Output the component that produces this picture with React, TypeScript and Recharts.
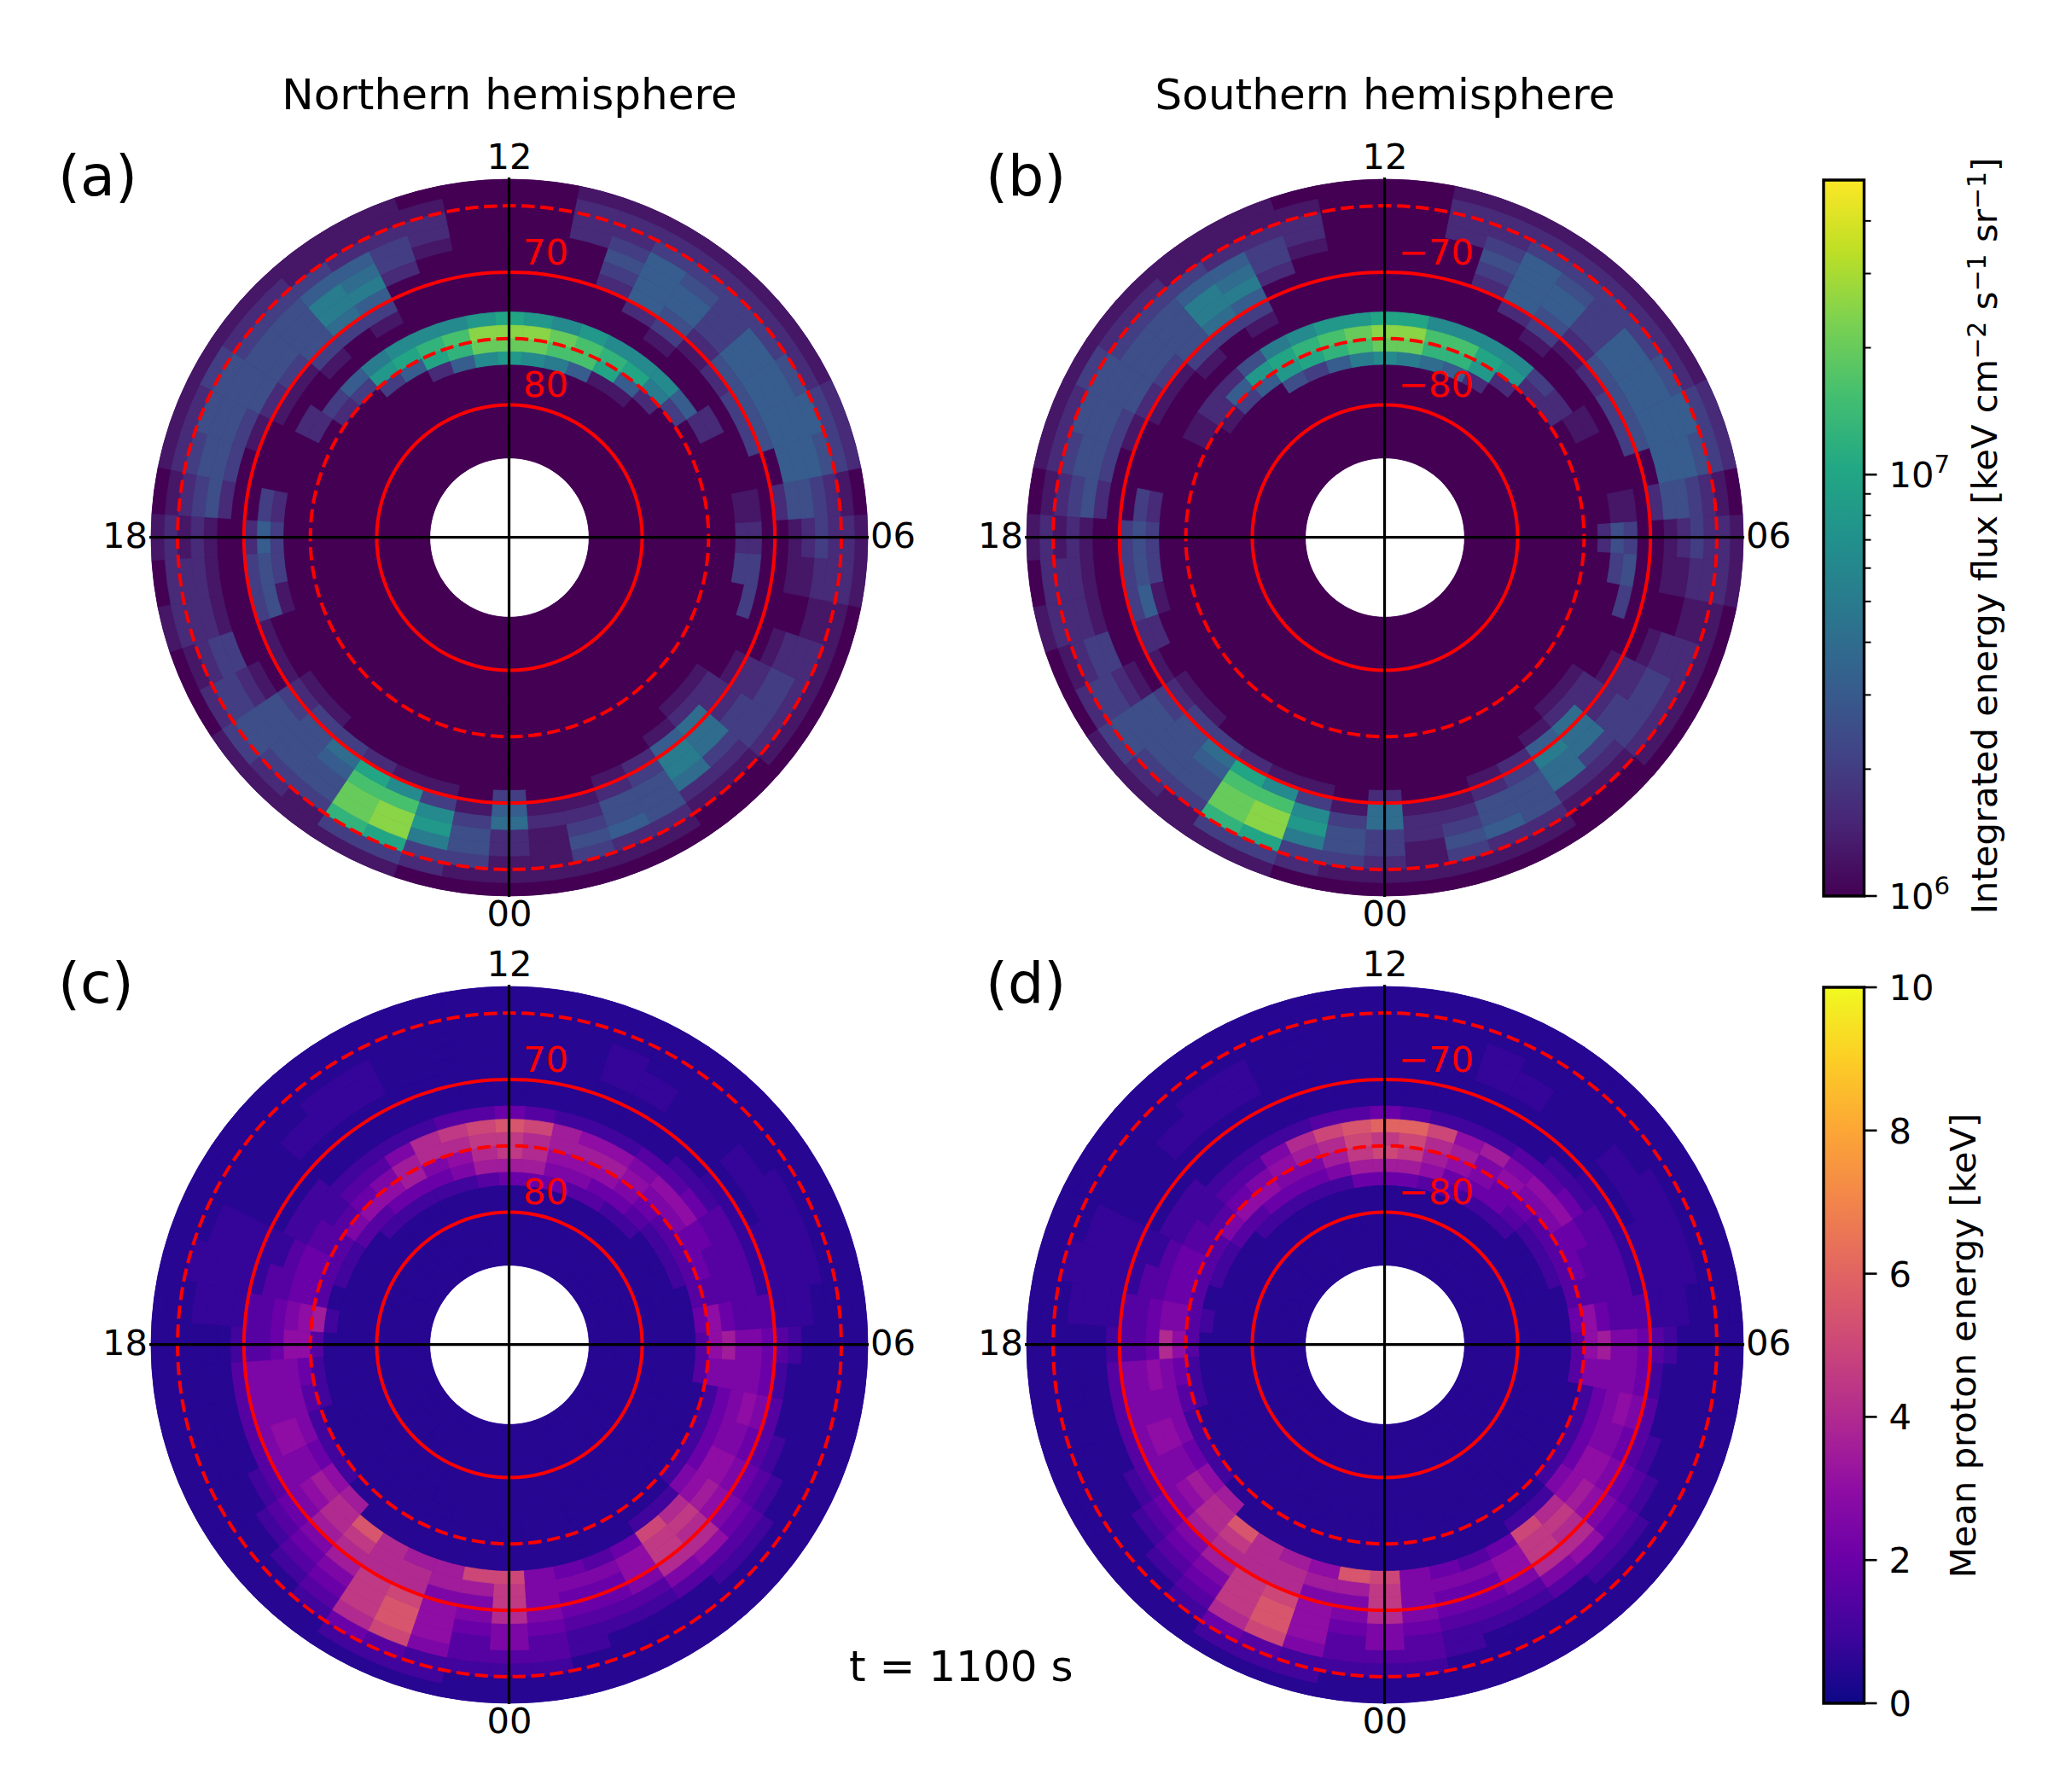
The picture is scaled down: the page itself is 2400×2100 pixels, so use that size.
import React from "react";
import { PieChart, Pie, ComposedChart, XAxis, YAxis, ReferenceLine, ReferenceArea } from "recharts";

// Each string is one half-hour MLT bin (index 0 = 00:00, running to 23:30). Each character is a base-36
// level for one 1-degree latitude ring, from 63-64 deg (first) poleward. Missing characters = background.
// Flux level L means 10^(6 + L/10) keV cm-2 s-1 sr-1; energy level L means L/2 keV, and "x" means 0.75 keV.
const fluxNorth = [
  "01122653","0111121","0134321","01254421","01244432","001267751","0012366621","0123332221","01233221","012221","011100003","1222110033",
  "1223210022","0123442011","234555","23555543","12455543022","123555420053","12333321008720","12345543108a51","12355552008ba1","12234320009cc5","12220000008dc7","00000000009ed8",
  "0000000000aed9","00000000009ed8","01221000008cb5","11233200008ba2","11256753108a5","1135776300793","123444431053","123444310032","13444421022","1244431","123443","0123420032",
  "1212100253","0222100343","1222100341","01233001","02332101","134444321","123444431","11344563","13bddca2","13aeec81","02379831","0134431",
];
const fluxSouth = [
  "01233662","0111221","0134321","01254421","01244432","001266751","0012366621","0123332221","01233221","012221","011100003","1222110043",
  "12232100342","0123442011","234555","23555543","12455543011","123555420022","123333210032","1234554310892","12355552008a92","12234320008cb5","12220000008cb6","0000000000aed7",
  "0000000000aed8","00000000009dc7","01221000009cb5","11233200008ba3","11256753107a94","1135776300495","1234444310253","1234443100221","134444210011","1244431","123443","0123420032",
  "1212100343","0222100343","1222100351","012330022","02332101","134444321","123444431","11344563","13bddca2","13aeec81","02379831","0134431",
];
const energyNorth = [
  "112355899a","1123345555","1112234454","1111234453","1111235664","111135899a2","11123688982","111234567652","111123456642","111112345542","1111113565421","1111112455553",
  "1111123455763","1111xxx3334641","111xxxxx333331","111xxxxx333432","111xxx1x334432","1111xx1x246532","111111112365432","111111111356542","1111xx111267643","111xxx111267653","111111111277654","1111111113a8874",
  "1111111114b9974","1111111113a9873","111111111398652","111111111288542","111xxx111257742","111xxx111235642","1111xx111234632","11111111222353","11111111223332","111xxxxxx34432","11xxxxxx334431","111xxxx3345672",
  "1111112334663","1111113555542","1111113555532","111111356652","111112355542","111123456762","111234578871","112345789b","1248999888","123abba887","1225666577","112334557a",
];
const energySouth = [
  "112355899a","1123345555","1112234454","1111234453","1111235664","111135899a2","11123688982","111234567652","111123456642","111112345542","1111113565421","1111112455553",
  "1111123455763","1111xxx3334641","111xxxxx333331","111xxxxx333432","111xxx1x334432","1111xx1x246532","111111112365432","111111111356442","1111xx111275542","111xxx111267643","1111111112a8763","1111111113ca974",
  "1111111114c9a74","1111111113ba974","1111111113a8752","111111111287542","111xxx111256542","111xxx111235642","1111xx111234632","11111111222353","11111111223332","111xxxxxx34432","11xxxxxx334431","111xxxx3345532",
  "1111112334863","1111113556542","1111113555532","111111356652","111112355542","111123456762","111234578871","112345789b","1248999888","123abba887","1225666576","112334557b",
];

const binHours = 0.5;
const firstLat = 63;
const ringCount = 21;
const solidLats = [70, 80];
const dashedLats = [65, 75];
const fluxTicks = [1e6, 2e6, 3e6, 4e6, 5e6, 6e6, 7e6, 8e6, 9e6, 1e7, 2e7, 3e7, 4e7];
const fluxMajor: Record<number, string> = { 1000000: "6", 10000000: "7" };
const energyTicks = [0, 2, 4, 6, 8, 10];

const viridis = ["#440154", "#482475", "#414487", "#355f8d", "#2a788e", "#21918c", "#22a884", "#44bf70", "#7ad151", "#bddf26", "#fde725"];
const plasma = ["#0d0887", "#41049d", "#6a00a8", "#8f0da4", "#b12a90", "#cc4778", "#e16462", "#f2844b", "#fca636", "#fcce25", "#f0f921"];

const FONT = '"DejaVu Sans", sans-serif';
const PX_PER_DEG = 420 / 27;
const radius = (lat: number) => (90 - lat) * PX_PER_DEG;

function sample(stops: string[], t: number) {
  const c = Math.max(0, Math.min(1, t)) * (stops.length - 1);
  const i = Math.min(stops.length - 2, Math.floor(c));
  const f = c - i;
  const a = parseInt(stops[i].slice(1), 16);
  const b = parseInt(stops[i + 1].slice(1), 16);
  const ch = (s: number) => Math.round(((a >> s) & 255) * (1 - f) + ((b >> s) & 255) * f);
  return `rgb(${ch(16)},${ch(8)},${ch(0)})`;
}

const FLUX_MAX = 5e7;
const fluxColor = (level: number) => sample(viridis, (level / 10) / Math.log10(FLUX_MAX / 1e6));
const energyColor = (level: number) => sample(plasma, (level / 2) / 10);
const parseLevel = (c: string) => (c === "x" ? 1.5 : parseInt(c, 36));

function ringData(bins: string[], ring: number, bg: string, color: (l: number) => string) {
  return bins.map((b, j) => {
    const level = parseLevel(b[ring] ?? bg);
    const fill = color(level);
    return { mlt: j * binHours, level, span: binHours, fill, stroke: fill };
  });
}

function Heat({ bins, bg, color }: { bins: string[]; bg: string; color: (l: number) => string }) {
  const C = 430;
  return (
    <PieChart width={C * 2} height={C * 2} margin={{ top: 0, right: 0, bottom: 0, left: 0 }} accessibilityLayer={false}>
      <Pie
        data={[{ v: 1, fill: color(parseLevel(bg)), stroke: "none" }]}
        dataKey="v"
        cx={C}
        cy={C}
        innerRadius={radius(firstLat + ringCount)}
        outerRadius={radius(firstLat)}
        startAngle={0}
        endAngle={360}
        label={false}
        labelLine={false}
        isAnimationActive={false}
        rootTabIndex={-1}
      />
      {Array.from({ length: ringCount }, (_, i) => (
        <Pie
          key={i}
          data={ringData(bins, i, bg, color)}
          dataKey="span"
          cx={C}
          cy={C}
          outerRadius={radius(firstLat + i)}
          innerRadius={radius(firstLat + i + 1)}
          startAngle={266.25}
          endAngle={626.25}
          strokeWidth={0.8}
          label={false}
          labelLine={false}
          isAnimationActive={false}
          rootTabIndex={-1}
        />
      ))}
      {solidLats.map((lat) => (
        <Pie
          key={`s${lat}`}
          data={[{ v: 1, fill: "#ff0000", stroke: "none" }]}
          dataKey="v"
          cx={C}
          cy={C}
          innerRadius={radius(lat) - 2}
          outerRadius={radius(lat) + 2}
          startAngle={0}
          endAngle={360}
          label={false}
          labelLine={false}
          isAnimationActive={false}
          rootTabIndex={-1}
        />
      ))}
      {dashedLats.map((lat) => {
        const r = radius(lat);
        const n = Math.round((2 * Math.PI * r) / 22.1);
        const data = Array.from({ length: n * 2 }, (_, k) => ({
          v: k % 2 === 0 ? 15.4 : 6.7,
          fill: k % 2 === 0 ? "#ff0000" : "none",
          stroke: "none",
        }));
        const start = lat === 65 ? 88.9 : 90;
        return (
          <Pie
            key={`d${lat}`}
            data={data}
            dataKey="v"
            cx={C}
            cy={C}
            innerRadius={r - 2}
            outerRadius={r + 2}
            startAngle={start}
            endAngle={start + 360}
            label={false}
            labelLine={false}
            isAnimationActive={false}
            rootTabIndex={-1}
          />
        );
      })}
    </PieChart>
  );
}

function Cross() {
  const lim = 27.1;
  const size = 2 * lim * PX_PER_DEG;
  return (
    <ComposedChart width={size} height={size} margin={{ top: 0, right: 0, bottom: 0, left: 0 }} data={[{ x: 0, y: 0 }]} accessibilityLayer={false}>
      <XAxis dataKey="x" type="number" domain={[-lim, lim]} hide />
      <YAxis dataKey="y" type="number" domain={[-lim, lim]} hide />
      <ReferenceLine x={0} stroke="#000" strokeWidth={3.2} />
      <ReferenceLine y={0} stroke="#000" strokeWidth={3.2} />
    </ComposedChart>
  );
}

function T({ x, y, size, color = "#000", anchor = "c", children }: any) {
  const tx = anchor === "c" ? "-50%" : anchor === "r" ? "-100%" : "0";
  return (
    <div
      style={{
        position: "absolute",
        left: x,
        top: y,
        transform: `translate(${tx},-50%)`,
        fontFamily: FONT,
        fontSize: size,
        lineHeight: 1,
        color,
        whiteSpace: "nowrap",
      }}
    >
      {children}
    </div>
  );
}

function Panel({ cx, cy, bins, bg, color, tag, tagX, south }: any) {
  const tickSize = 41.7;
  const size = 2 * 27.1 * PX_PER_DEG;
  return (
    <>
      <div style={{ position: "absolute", left: cx - 430, top: cy - 430 }}>
        <Heat bins={bins} bg={bg} color={color} />
      </div>
      <div style={{ position: "absolute", left: cx - size / 2, top: cy - size / 2 }}>
        <Cross />
      </div>
      <T x={cx} y={cy - 446} size={tickSize}>12</T>
      <T x={cx} y={cy + 441} size={tickSize}>00</T>
      <T x={cx - 424} y={cy - 2} size={tickSize} anchor="r">18</T>
      <T x={cx + 423} y={cy - 2} size={tickSize} anchor="l">06</T>
      <T x={cx + 16} y={cy - 334} size={tickSize} color="#ff0000" anchor="l">{south ? "\u221270" : "70"}</T>
      <T x={cx + 16} y={cy - 179} size={tickSize} color="#ff0000" anchor="l">{south ? "\u221280" : "80"}</T>
      <T x={tagX} y={cy - 424} size={66.7} anchor="l">{tag}</T>
    </>
  );
}

function ColorBar({ id, stops, top, bottom, log, ticks, domain }: any) {
  const margin = 5;
  const plotW = 47.5;
  const axisW = 200;
  const renderTick = (p: any) => {
    const v = p.payload.value;
    const major = log ? fluxMajor[v] !== undefined : true;
    return (
      <g>
        <line x1={p.x} x2={p.x + (major ? 15 : 8)} y1={p.y} y2={p.y} stroke="#000" strokeWidth={major ? 2.6 : 2} />
        {major && (
          <text x={p.x + 29} y={p.y + 15} fontFamily={FONT} fontSize={41.7} fill="#000">
            {log ? (
              <>
                <tspan>10</tspan>
                <tspan dy={-17} fontSize={29.2}>{fluxMajor[v]}</tspan>
              </>
            ) : (
              String(v)
            )}
          </text>
        )}
      </g>
    );
  };
  return (
    <div style={{ position: "absolute", left: 2136.5 - margin, top: top - 30 }}>
      <ComposedChart
        width={margin + plotW + axisW}
        height={bottom - top + 60}
        margin={{ top: 30, bottom: 30, left: margin, right: 0 }}
        data={[{ x: 0 }, { x: 1 }]}
        accessibilityLayer={false}
      >
        <defs>
          <linearGradient id={id} x1="0" y1="1" x2="0" y2="0">
            {stops.map((c: string, i: number) => (
              <stop key={i} offset={i / (stops.length - 1)} stopColor={c} />
            ))}
          </linearGradient>
        </defs>
        <XAxis dataKey="x" type="number" domain={[0, 1]} hide />
        <YAxis
          orientation="right"
          type="number"
          scale={log ? "log" : "linear"}
          domain={domain}
          ticks={ticks}
          interval={0}
          width={axisW}
          axisLine={false}
          tickLine={false}
          tickSize={0}
          tickMargin={0}
          tick={renderTick}
          allowDataOverflow
        />
        <ReferenceArea x1={0} x2={1} y1={domain[0]} y2={domain[1]} fill={`url(#${id})`} fillOpacity={1} stroke="#000" strokeWidth={3.4} />
      </ComposedChart>
    </div>
  );
}

const Sup = ({ children }: any) => (
  <span style={{ fontSize: "0.72em", verticalAlign: "0.45em", lineHeight: 0 }}>{children}</span>
);

function Rot({ x, y, children }: any) {
  return (
    <div
      style={{
        position: "absolute",
        left: x,
        top: y,
        transform: "translate(-50%,-50%) rotate(-90deg)",
        fontFamily: FONT,
        fontSize: 41.7,
        lineHeight: 1,
        whiteSpace: "nowrap",
      }}
    >
      {children}
    </div>
  );
}

export default function App() {
  const xL = 597;
  const xR = 1623;
  const yT = 630;
  const yB = 1575.5;
  return (
    <div style={{ position: "absolute", left: 0, top: 0, width: 2400, height: 2100, background: "#fff", overflow: "hidden" }}>
      <T x={xL} y={110.5} size={50}>Northern hemisphere</T>
      <T x={xR} y={110.5} size={50}>Southern hemisphere</T>
      <Panel cx={xL} cy={yT} bins={fluxNorth} bg="0" color={fluxColor} tag="(a)" tagX={68} />
      <Panel cx={xR} cy={yT} bins={fluxSouth} bg="0" color={fluxColor} tag="(b)" tagX={1155} south />
      <Panel cx={xL} cy={yB} bins={energyNorth} bg="1" color={energyColor} tag="(c)" tagX={68} />
      <Panel cx={xR} cy={yB} bins={energySouth} bg="1" color={energyColor} tag="(d)" tagX={1155} south />
      <T x={995} y={1953} size={50} anchor="l">t = 1100 s</T>
      <ColorBar id="gFlux" stops={viridis} top={211} bottom={1050} log ticks={fluxTicks} domain={[1e6, FLUX_MAX]} />
      <ColorBar id="gEnergy" stops={plasma} top={1156.5} bottom={1995.5} ticks={energyTicks} domain={[0, 10]} />
      <Rot x={2326} y={628}>
        Integrated energy flux [keV cm<Sup>{"\u22122"}</Sup> s<Sup>{"\u22121"}</Sup> sr<Sup>{"\u22121"}</Sup>]
      </Rot>
      <Rot x={2301} y={1577}>Mean proton energy [keV]</Rot>
    </div>
  );
}
